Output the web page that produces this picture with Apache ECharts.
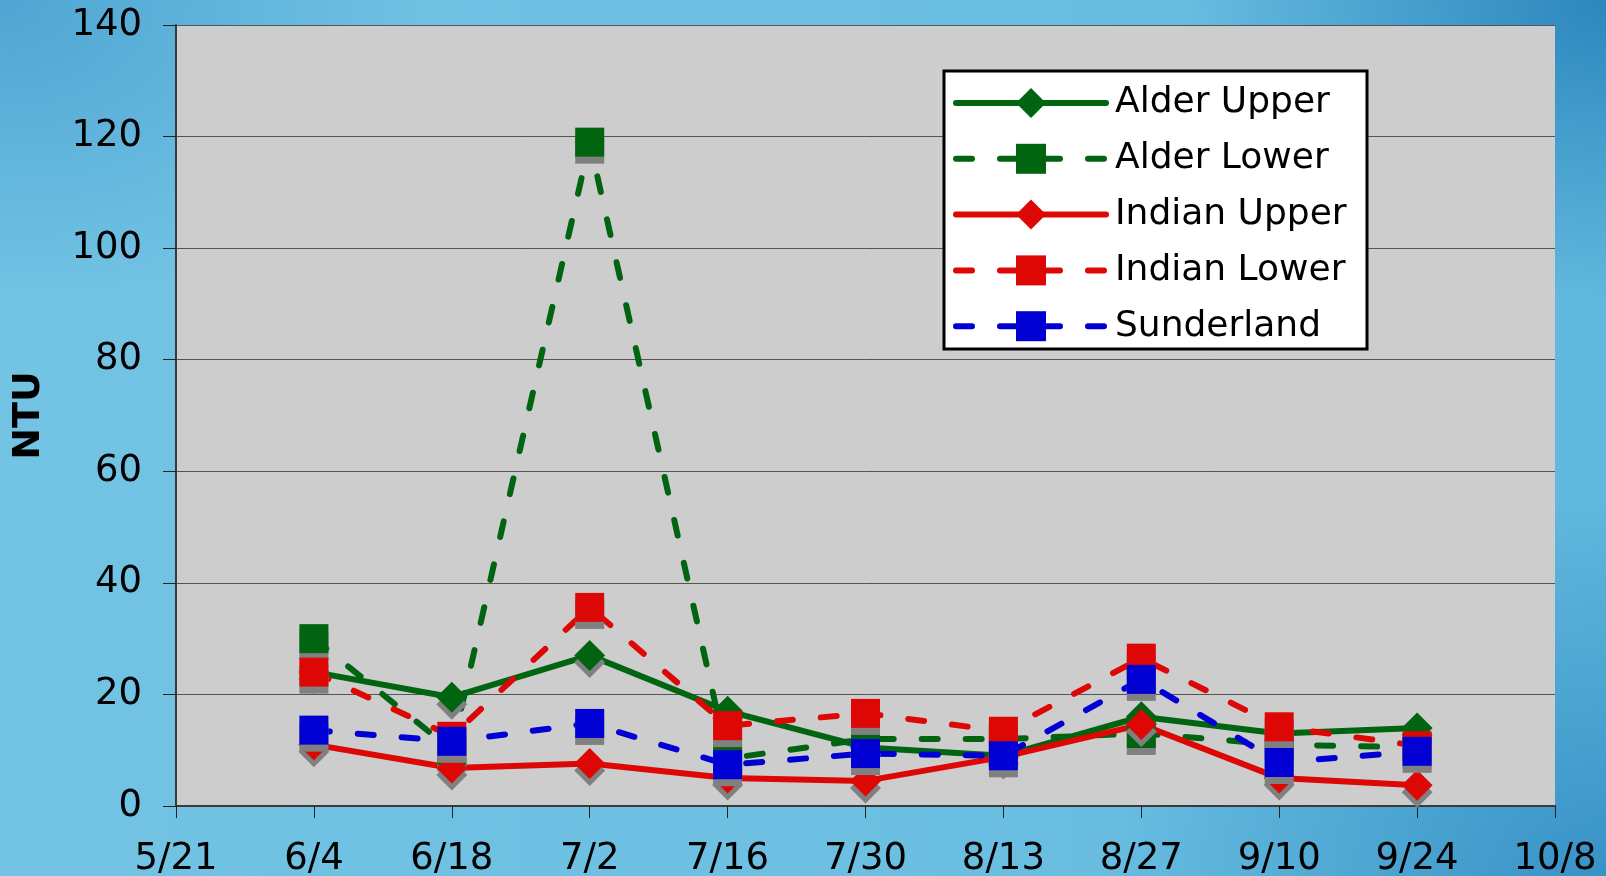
<!DOCTYPE html>
<html>
<head>
<meta charset="utf-8">
<script src="https://cdn.jsdelivr.net/npm/echarts@6/dist/echarts.min.js"></script>
<style>
  html, body { margin: 0; padding: 0; }
  #chart {
    width: 1606px;
    height: 876px;
    background:
      radial-gradient(ellipse 420px 300px at 100% 0%, rgba(28,118,178,0.75) 0%, rgba(28,118,178,0) 100%),
      radial-gradient(ellipse 500px 380px at 100% 100%, rgba(40,130,188,0.7) 0%, rgba(40,130,188,0) 100%),
      radial-gradient(ellipse 420px 300px at 0% 0%, rgba(50,140,196,0.55) 0%, rgba(50,140,196,0) 100%),
      linear-gradient(90deg, #72c3e4 0%, #6dc0e2 50%, #60b8de 100%);
  }
</style>
</head>
<body>
<div id="chart"></div>
<script>
// sampling dates and turbidity (NTU) per site
const dates = ['6/4', '6/18', '7/2', '7/16', '7/30', '8/13', '8/27', '9/10', '9/24']
const alderUpper = [24, 19.5, 27, 17, 10.5, 9, 16, 13, 14]
const alderLower = [30, 10, 119, 8.5, 12, 12, 13, 11, 10.5]
const indianUpper = [11, 6.8, 7.6, 5, 4.5, 8.8, 14.6, 5, 3.7]
const indianLower = [24, 12.5, 35.6, 14.4, 16.6, 13.4, 26.5, 14.2, 10.8]
const sunderland = [13.6, 11.6, 14.8, 7.4, 9.4, 9, 22.7, 7.8, 9.8]
const xTickLabels = ['5/21', '6/4', '6/18', '7/2', '7/16', '7/30', '8/13', '8/27', '9/10', '9/24', '10/8']

const FONT = 'DejaVu Sans'

// days since 5/21
function dayOf(s) {
  const [m, d] = s.split('/').map(Number)
  return (Date.UTC(2000, m - 1, d) - Date.UTC(2000, 4, 21)) / 86400000
}
function pts(vals) {
  return vals.map((v, i) => [dayOf(dates[i]), v])
}

const shadow = { shadowColor: '#808080', shadowOffsetY: 7, shadowOffsetX: 0, shadowBlur: 0 }
const dash = [16, 28]

function mkSeries(name, vals, color, symbol, dashed) {
  return {
    name: name,
    type: 'line',
    data: pts(vals),
    symbol: symbol,
    symbolSize: symbol === 'diamond' ? 31 : 29,
    showAllSymbol: true,
    lineStyle: { color: color, width: 6, type: dashed ? dash : 'solid', cap: 'round', join: 'round' },
    itemStyle: Object.assign({ color: color }, shadow),
    emphasis: { disabled: true }
  }
}

const myChart = echarts.init(document.getElementById('chart'))
const option = {
  animation: false,
  backgroundColor: 'transparent',
  grid: {
    left: 176, right: 51, top: 25, bottom: 70,
    outerBoundsMode: 'none',
    show: true, backgroundColor: '#cdcdcd', borderWidth: 0
  },
  xAxis: {
    type: 'value',
    min: 0,
    max: 140,
    interval: 14,
    axisLine: { show: true, onZero: false, lineStyle: { color: '#3a3a3a', width: 2 } },
    axisTick: { show: true, inside: false, length: 12, lineStyle: { color: '#222', width: 1 } },
    splitLine: { show: false },
    axisLabel: {
      margin: 53,
      verticalAlign: 'middle',
      fontFamily: FONT,
      fontSize: 37,
      color: '#000',
      formatter: v => xTickLabels[Math.round(v / 14)]
    }
  },
  yAxis: {
    type: 'value',
    min: 0,
    max: 140,
    interval: 20,
    name: 'NTU',
    nameLocation: 'middle',
    nameRotate: 90,
    nameGap: 128,
    nameTextStyle: { fontFamily: FONT, fontWeight: 'bold', fontSize: 38, color: '#000' },
    axisLine: { show: true, lineStyle: { color: '#3a3a3a', width: 2 } },
    axisTick: { show: true, inside: false, length: 13, lineStyle: { color: '#222', width: 1 } },
    splitLine: { show: true, lineStyle: { color: '#555', width: 1 } },
    axisLabel: { margin: 34, fontFamily: FONT, fontSize: 37, color: '#000' }
  },
  graphic: [
    {
      type: 'rect',
      z: 50,
      shape: { x: 944, y: 71, width: 423, height: 278 },
      style: { fill: '#fff', stroke: '#000', lineWidth: 3 }
    }
  ],
  legend: {
    z: 60,
    orient: 'vertical',
    left: 953,
    top: 85,
    padding: 0,
    itemWidth: 150,
    itemHeight: 37.5,
    itemGap: 19.8,
    itemStyle: { shadowColor: 'transparent', shadowOffsetY: 0 },
    lineStyle: { width: 6, cap: 'round' },
    textStyle: { fontFamily: FONT, fontSize: 36, color: '#000', padding: [0, 0, 0, 4] },
    data: ['Alder Upper', 'Alder Lower', 'Indian Upper', 'Indian Lower', 'Sunderland']
  },
  series: [
    mkSeries('Alder Upper', alderUpper, '#006411', 'diamond', false),
    mkSeries('Alder Lower', alderLower, '#006411', 'rect', true),
    mkSeries('Indian Upper', indianUpper, '#dd0806', 'diamond', false),
    mkSeries('Indian Lower', indianLower, '#dd0806', 'rect', true),
    mkSeries('Sunderland', sunderland, '#0000d4', 'rect', true)
  ]
}
myChart.setOption(option)
</script>
</body>
</html>
